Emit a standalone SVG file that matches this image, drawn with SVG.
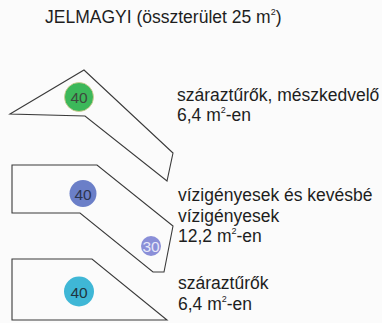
<svg xmlns="http://www.w3.org/2000/svg" width="382" height="323" viewBox="0 0 382 323">
<style>
.bed{fill:none;stroke:#3a3a3a;stroke-width:1.1;stroke-linejoin:miter}
.t{font-family:"Liberation Sans",Arial,sans-serif;font-size:17.5px;fill:#1e1e1e}
.sup{font-size:9px}
.n{font-family:"Liberation Sans",Arial,sans-serif;font-size:15.5px;text-anchor:middle;dominant-baseline:central}
</style>
<rect width="382" height="323" fill="#fbfbfb"/>
<text class="t" x="45" y="22.5">JELMAGYI (összterület 25 m<tspan class="sup" dy="-8">2</tspan><tspan dy="8">)</tspan></text>
<g id="bed1">
<polygon class="bed" points="10,114 84,70 173,153 167,181 85,116"/>
<circle cx="79" cy="97" r="14.5" fill="#3cb85a" stroke="#d8c98e" stroke-width="0.8"/>
<text class="n" x="79" y="97.5" fill="#3d4a3d">40</text>
<text class="t" x="177" y="100.5">száraztűrők, mészkedvelő</text>
<text class="t" x="177" y="120.5">6,4 m<tspan class="sup" dy="-8">2</tspan><tspan dy="8">-en</tspan></text>
</g>
<g id="bed2">
<polygon class="bed" points="12,165 97,165 173,226 164,272 153,272 80,213 12,213"/>
<circle cx="83" cy="193.5" r="13.5" fill="#6b7fc8"/>
<text class="n" x="83" y="194" fill="#2b3550">40</text>
<circle cx="151" cy="246" r="10" fill="#8a8fd8"/>
<text class="n" x="151" y="246.5" fill="#e8e8f8">30</text>
<text class="t" x="178" y="201">vízigényesek és kevésbé</text>
<text class="t" x="178" y="221.5">vízigényesek</text>
<text class="t" x="178" y="242">12,2 m<tspan class="sup" dy="-8">2</tspan><tspan dy="8">-en</tspan></text>
</g>
<g id="bed3">
<polygon class="bed" points="12,259 92,259 167,320 12,320"/>
<circle cx="79" cy="291.5" r="15" fill="#3fb7d6"/>
<text class="n" x="79" y="292" fill="#1f3540">40</text>
<text class="t" x="178" y="288.5">száraztűrők</text>
<text class="t" x="178" y="309.5">6,4 m<tspan class="sup" dy="-8">2</tspan><tspan dy="8">-en</tspan></text>
</g>
<g id="connectors"/>
</svg>
